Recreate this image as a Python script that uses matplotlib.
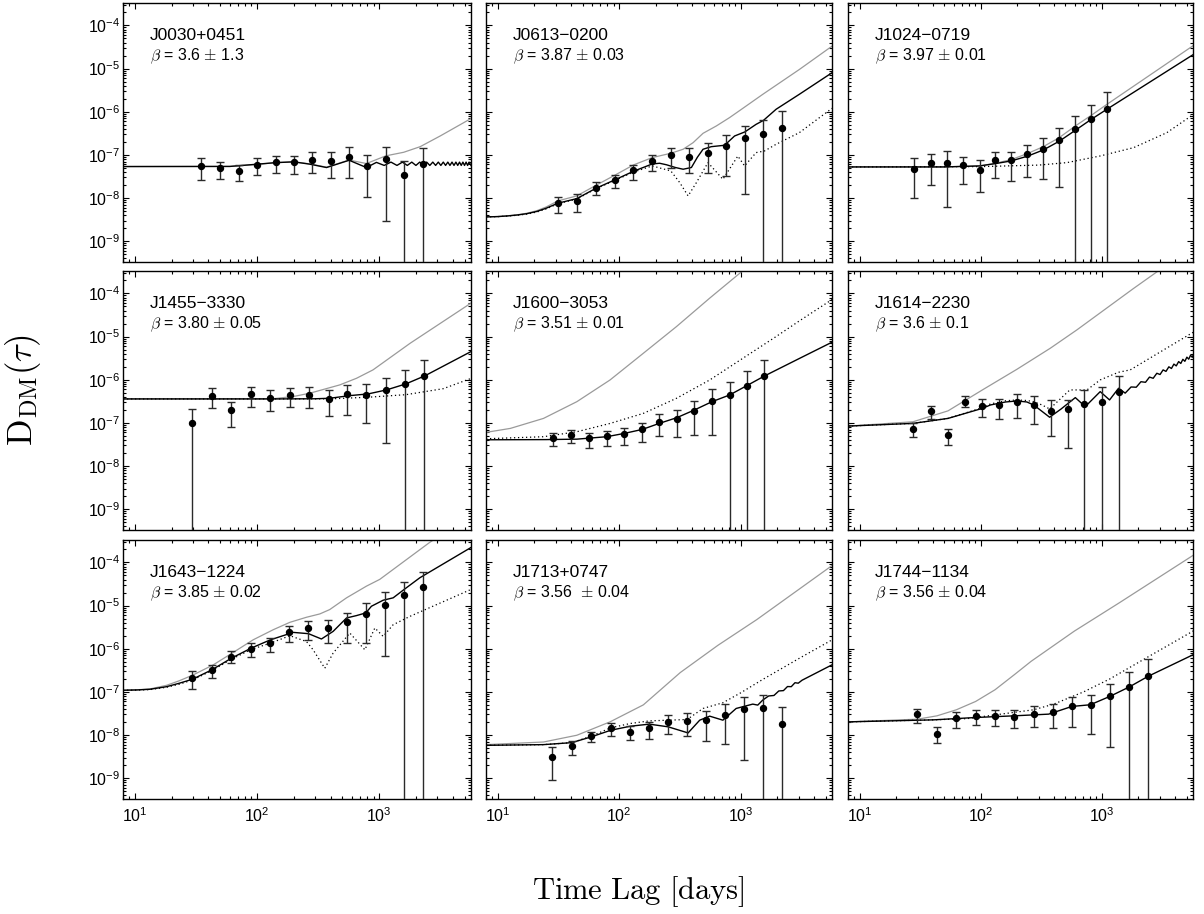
import matplotlib
matplotlib.use("Agg")
import matplotlib.pyplot as plt
from matplotlib.ticker import FixedLocator, NullFormatter, LogFormatterSciNotation
import numpy as np

plt.rcParams['font.family'] = ['Liberation Sans', 'DejaVu Sans']
plt.rcParams['mathtext.fontset'] = 'cm'

# ---------------- data ----------------
names = ["J0030+0451", "J0613\u22120200", "J1024\u22120719",
         "J1455\u22123330", "J1600\u22123053", "J1614\u22122230",
         "J1643\u22121224", "J1713+0747", "J1744\u22121134"]
betas = [r"$\beta$ = 3.6 $\pm$ 1.3", r"$\beta$ = 3.87 $\pm$ 0.03", r"$\beta$ = 3.97 $\pm$ 0.01",
         r"$\beta$ = 3.80 $\pm$ 0.05", r"$\beta$ = 3.51 $\pm$ 0.01", r"$\beta$ = 3.6 $\pm$ 0.1",
         r"$\beta$ = 3.85 $\pm$ 0.02", r"$\beta$ = 3.56  $\pm$ 0.04", r"$\beta$ = 3.56 $\pm$ 0.04"]

x_major_ticks = [10, 100, 1000]
y_major_ticks = [1e-9, 1e-8, 1e-7, 1e-6, 1e-5, 1e-4]

FLOOR = 1e-12  # error bar extends below the axis

# J0030+0451
p1_x = [34.9, 49.6, 70.6, 100, 142, 200, 283, 400, 568, 797, 1135, 1592, 2265]
p1_y = [5.56e-8, 4.9e-8, 4.26e-8, 5.87e-8, 6.77e-8, 6.77e-8, 7.8e-8, 7.26e-8, 9.15e-8, 5.66e-8, 7.94e-8, 3.44e-8, 6.05e-8]
p1_hi = [8.4e-8, 7.0e-8, 5.97e-8, 8.4e-8, 9.66e-8, 9.66e-8, 1.19e-7, 1.17e-7, 1.56e-7, 1.0e-7, 1.56e-7, 7.13e-8, 1.47e-7]
p1_lo = [2.64e-8, 2.73e-8, 2.45e-8, 3.44e-8, 3.83e-8, 3.63e-8, 3.83e-8, 2.94e-8, 2.94e-8, 1.07e-8, 2.92e-9, FLOOR, FLOOR]
p1_bx = [8, 60, 100, 141, 200, 270, 371, 568, 787, 950, 1100, 1250, 1400, 1550, 1700, 1850, 2000, 2150, 2300,
         2450, 2600, 2750, 2900, 3050, 3200, 3350, 3500, 3650, 3800, 3950, 4100, 4250, 4400, 4550, 4700,
         4850, 5000, 5150, 5300, 5450, 5650]
p1_by = [5.37e-8, 5.4e-8, 6.08e-8, 6.6e-8, 6.9e-8, 6.1e-8, 5.09e-8, 7.5e-8, 5.09e-8, 6.7e-8, 5.7e-8, 6.8e-8,
         5.7e-8, 6.8e-8, 5.7e-8, 6.8e-8, 5.7e-8, 6.8e-8, 5.7e-8, 6.8e-8, 5.7e-8, 6.8e-8, 5.7e-8, 6.8e-8,
         5.7e-8, 6.8e-8, 5.7e-8, 6.8e-8, 5.7e-8, 6.8e-8, 5.7e-8, 6.8e-8, 5.7e-8, 6.8e-8, 5.7e-8, 6.8e-8,
         5.7e-8, 6.8e-8, 5.7e-8, 6.8e-8, 5.7e-8]
p1_gx = [8, 60, 100, 141, 200, 270, 371, 568, 787, 1135, 1590, 2168, 3160, 5675]
p1_gy = [5.37e-8, 5.4e-8, 6.0e-8, 6.6e-8, 6.9e-8, 6.2e-8, 5.2e-8, 7.6e-8, 6.3e-8, 9.5e-8, 1.15e-7, 1.55e-7, 2.74e-7, 7.0e-7]
p1_dx = []
p1_dy = []

# J0613-0200
p2_x = [31.3, 44.7, 64.5, 91.8, 131, 187, 266, 378, 538, 761, 1082, 1541, 2191]
p2_y = [7.85e-9, 8.59e-9, 1.75e-8, 2.63e-8, 4.48e-8, 7.24e-8, 9.8e-8, 9.12e-8, 1.13e-7, 1.61e-7, 2.51e-7, 3.05e-7, 4.2e-7]
p2_hi = [1.08e-8, 1.22e-8, 2.36e-8, 3.49e-8, 5.95e-8, 1.01e-7, 1.47e-7, 1.42e-7, 1.92e-7, 2.84e-7, 4.75e-7, 6.55e-7, 1.02e-6]
p2_lo = [4.53e-9, 4.86e-9, 1.16e-8, 1.72e-8, 2.63e-8, 4.25e-8, 5.07e-8, 3.89e-8, 3.75e-8, 3.25e-8, 1.27e-8, FLOOR, FLOOR]
p2_bx = [8, 10, 12, 14.5, 17.4, 21, 25, 31.3, 44.7, 64.5, 91.8, 131, 187, 215, 245, 290, 336, 393, 440, 490,
         573, 737, 891, 1082, 1340, 1541, 1958, 3040, 5650]
p2_by = [3.66e-9, 3.72e-9, 3.85e-9, 4.05e-9, 4.35e-9, 4.9e-9, 5.8e-9, 7.6e-9, 9.7e-9, 1.69e-8, 2.63e-8, 4.17e-8,
         6.16e-8, 6.4e-8, 5.9e-8, 5.1e-8, 4.65e-8, 5.1e-8, 8.8e-8, 1.35e-7, 1.55e-7, 1.67e-7, 2.74e-7, 3.4e-7,
         5.1e-7, 6.3e-7, 1.14e-6, 2.53e-6, 8.0e-6]
p2_gx = [8, 10, 12, 14.5, 17.4, 21, 25, 31.3, 44.7, 64.5, 91.8, 131, 187, 266, 336, 406, 490, 630, 810, 1043,
         1521, 3040, 5650]
p2_gy = [3.66e-9, 3.73e-9, 3.88e-9, 4.1e-9, 4.45e-9, 5.1e-9, 6.2e-9, 8.6e-9, 1.12e-8, 1.98e-8, 3.37e-8,
         5.85e-8, 8.65e-8, 1.09e-7, 1.35e-7, 1.92e-7, 3.16e-7, 4.67e-7, 7.3e-7, 1.2e-6, 2.53e-6, 9.5e-6, 3.3e-5]
p2_dx = [8, 10, 12, 14.5, 17.4, 21, 25, 31.3, 44.7, 64.5, 91.8, 131, 187, 266, 315, 369, 432, 538, 714, 948,
         1077, 1340, 1570, 1958, 3040, 5650]
p2_dy = [3.66e-9, 3.71e-9, 3.82e-9, 4.0e-9, 4.25e-9, 4.75e-9, 5.6e-9, 7.4e-9, 9.5e-9, 1.65e-8, 2.55e-8, 4.0e-8,
         5.55e-8, 4.25e-8, 2.28e-8, 1.12e-8, 2.28e-8, 6.62e-8, 2.72e-8, 9.4e-8, 5.55e-8, 1.13e-7, 1.23e-7,
         1.76e-7, 3.27e-7, 1.2e-6]

# J1024-0719
p3_x = [28.2, 38.5, 52.6, 71.8, 97.8, 132, 178, 242, 328, 444, 603, 817, 1099]
p3_y = [4.81e-8, 6.5e-8, 6.5e-8, 5.85e-8, 4.56e-8, 7.64e-8, 7.5e-8, 1.03e-7, 1.40e-7, 2.18e-7, 3.92e-7, 6.67e-7, 1.14e-6]
p3_hi = [8.65e-8, 1.07e-7, 1.23e-7, 9.12e-8, 7.5e-8, 1.17e-7, 1.19e-7, 1.73e-7, 2.42e-7, 4.13e-7, 7.96e-7, 1.46e-6, 2.92e-6]
p3_lo = [9.9e-9, 2.05e-8, 6.1e-9, 2.16e-8, 1.36e-8, 2.87e-8, 2.49e-8, 3.08e-8, 2.82e-8, 1.84e-8, FLOOR, FLOOR, FLOOR]
p3_bx = [8, 50, 97.8, 132, 178, 242, 328, 444, 603, 817, 1099, 5710]
p3_by = [5.26e-8, 5.26e-8, 5.55e-8, 6.28e-8, 7.24e-8, 9.3e-8, 1.3e-7, 2.07e-7, 3.71e-7, 6.67e-7, 1.14e-6, 2.13e-5]
p3_gx = [8, 50, 97.8, 132, 178, 242, 328, 444, 603, 817, 1099, 5710]
p3_gy = [5.26e-8, 5.26e-8, 5.55e-8, 6.4e-8, 7.76e-8, 1.07e-7, 1.55e-7, 2.51e-7, 4.68e-7, 8.26e-7, 1.48e-6, 3.44e-5]
p3_dx = [8, 99, 300, 514, 968, 1824, 3435, 5710]
p3_dy = [5.26e-8, 5.35e-8, 5.8e-8, 6.62e-8, 9.44e-8, 1.47e-7, 3.27e-7, 8.7e-7]

# J1455-3330
p4_x = [29.6, 42.6, 61.8, 89.5, 129, 186, 267, 385, 550, 787, 1135, 1622, 2322]
p4_y = [9.9e-8, 4.28e-7, 1.95e-7, 4.67e-7, 3.71e-7, 4.51e-7, 4.51e-7, 3.64e-7, 4.59e-7, 4.51e-7, 5.68e-7, 8.11e-7, 1.22e-6]
p4_hi = [2.06e-7, 6.55e-7, 3.1e-7, 6.9e-7, 5.68e-7, 6.55e-7, 6.9e-7, 5.68e-7, 7.69e-7, 8.11e-7, 1.08e-6, 1.71e-6, 2.92e-6]
p4_lo = [FLOOR, 2.25e-7, 7.87e-8, 2.37e-7, 1.91e-7, 2.33e-7, 2.17e-7, 1.42e-7, 1.49e-7, 9.73e-8, 3.4e-8, FLOOR, FLOOR]
p4_bx = [8, 150, 300, 394, 575, 813, 1148, 1656, 2367, 5650]
p4_by = [3.59e-7, 3.59e-7, 3.62e-7, 3.72e-7, 4.28e-7, 4.69e-7, 5.8e-7, 8.0e-7, 1.23e-6, 4.49e-6]
p4_gx = [8, 135, 200, 270, 476, 653, 891, 1795, 5650]
p4_gy = [3.59e-7, 3.62e-7, 4.1e-7, 4.86e-7, 7.58e-7, 1.08e-6, 1.69e-6, 7.0e-6, 5.96e-5]
p4_dx = [8, 394, 813, 1656, 3350, 5650]
p4_dy = [3.59e-7, 3.6e-7, 3.93e-7, 4.5e-7, 6.2e-7, 1.07e-6]

# J1600-3053
p5_x = [28.4, 40.0, 56.1, 78.8, 110, 155, 213, 298, 416, 581, 811, 1125, 1570]
p5_y = [4.44e-8, 5.22e-8, 4.37e-8, 4.94e-8, 5.5e-8, 7.06e-8, 1.06e-7, 1.23e-7, 1.88e-7, 3.21e-7, 4.43e-7, 7.3e-7, 1.22e-6]
p5_hi = [5.91e-8, 6.94e-8, 5.91e-8, 6.57e-8, 7.72e-8, 1.01e-7, 1.63e-7, 1.99e-7, 3.16e-7, 6.0e-7, 9.03e-7, 1.57e-6, 2.92e-6]
p5_lo = [2.9e-8, 3.4e-8, 2.61e-8, 2.9e-8, 3.11e-8, 3.66e-8, 4.94e-8, 4.6e-8, 5.22e-8, 5.13e-8, FLOOR, FLOOR, FLOOR]
p5_bx = [8, 25, 44.8, 78.8, 110, 155, 213, 298, 416, 581, 811, 1125, 1570, 3040, 5650]
p5_by = [4.06e-8, 4.1e-8, 4.2e-8, 4.78e-8, 5.7e-8, 7.06e-8, 9.7e-8, 1.32e-7, 1.99e-7, 3.1e-7, 4.43e-7, 7.3e-7,
         1.22e-6, 3.1e-6, 7.4e-6]
p5_gx = [8, 12.7, 23.8, 44.8, 84, 158, 296, 556, 1035, 2000]
p5_gy = [6.03e-8, 7.45e-8, 1.27e-7, 3.1e-7, 9.86e-7, 4.1e-6, 1.7e-5, 7.76e-5, 3.3e-4, 1.5e-3]
p5_dx = [8, 23.8, 44.8, 84, 158, 296, 556, 1043, 1958, 3040, 5650]
p5_dy = [4.29e-8, 4.78e-8, 6.24e-8, 9.7e-8, 1.66e-7, 3.71e-7, 9.86e-7, 3.14e-6, 1.0e-5, 2.3e-5, 7.2e-5]

# J1614-2230
p6_x = [27.5, 38.5, 53.6, 74.0, 103, 142, 198, 273, 377, 521, 715, 993, 1374]
p6_y = [7.06e-8, 1.88e-7, 5.13e-8, 3.05e-7, 2.42e-7, 2.55e-7, 3.1e-7, 2.64e-7, 1.91e-7, 2.09e-7, 2.74e-7, 3.05e-7, 5.1e-7]
p6_hi = [9.73e-8, 2.46e-7, 7.06e-8, 4.2e-7, 3.51e-7, 3.64e-7, 4.67e-7, 4.2e-7, 3.32e-7, 3.39e-7, 5.68e-7, 6.67e-7, 1.24e-6]
p6_lo = [4.6e-8, 1.2e-7, 3.05e-8, 2.29e-7, 1.36e-7, 1.2e-7, 1.32e-7, 9.23e-8, 4.94e-8, 2.61e-8, FLOOR, FLOOR, FLOOR]
p6_bx = [8, 27.5, 53.6, 103, 120, 160, 199, 240, 273, 320, 370, 460, 603, 728, 968, 1156, 1372, 1556, 1740,
         1920, 2100, 2290, 2470, 2650, 2840, 3020, 3200, 3380, 3570, 3750, 3930, 4110, 4300, 4480, 4660, 4840,
         5030, 5210, 5390, 5570, 5750]
p6_by = [8.43e-8, 9.73e-8, 1.27e-7, 2.17e-7, 2.6e-7, 3.05e-7, 3.22e-7, 3.05e-7, 2.6e-7, 1.85e-7, 1.35e-7,
         2.1e-7, 3.85e-7, 2.38e-7, 5.3e-7, 3.4e-7, 6.34e-7, 4.89e-7, 6.79e-7, 6.7e-7, 8.99e-7, 8.71e-7,
         1.15e-6, 1.08e-6, 1.41e-6, 1.32e-6, 1.69e-6, 1.56e-6, 1.99e-6, 1.82e-6, 2.3e-6, 2.09e-6, 2.63e-6,
         2.38e-6, 2.97e-6, 2.67e-6, 3.33e-6, 2.99e-6, 3.69e-6, 3.3e-6, 4.06e-6]
p6_gx = [8, 27.5, 53.6, 103, 199, 375, 622, 1824, 3000]
p6_gy = [8.43e-8, 1.06e-7, 1.9e-7, 5.8e-7, 1.75e-6, 5.37e-6, 1.43e-5, 1.3e-4, 3.5e-4]
p6_dx = [8, 27.5, 53.6, 103, 120, 160, 199, 240, 273, 320, 370, 543, 752, 968, 1372, 1714, 5650]
p6_dy = [8.43e-8, 9.73e-8, 1.27e-7, 2.25e-7, 2.75e-7, 3.25e-7, 3.4e-7, 3.3e-7, 3.1e-7, 2.6e-7, 2.1e-7,
         5.8e-7, 5.8e-7, 9.9e-7, 1.49e-6, 1.69e-6, 1.25e-5]

# J1643-1224
p7_x = [29.6, 42.6, 61.8, 89.5, 129, 183, 264, 378, 541, 778, 1112, 1602, 2265]
p7_y = [2.07e-7, 3.29e-7, 6.6e-7, 9.95e-7, 1.35e-6, 2.39e-6, 3.02e-6, 2.96e-6, 4.09e-6, 6.4e-6, 1.05e-5, 1.71e-5, 2.62e-5]
p7_hi = [3.0e-7, 4.3e-7, 8.63e-7, 1.35e-6, 1.77e-6, 3.42e-6, 4.4e-6, 4.64e-6, 6.75e-6, 1.13e-5, 2.05e-5, 3.56e-5, 5.87e-5]
p7_lo = [1.17e-7, 2.07e-7, 4.62e-7, 6.6e-7, 8.34e-7, 1.4e-6, 1.56e-6, 1.33e-6, 1.35e-6, 1.35e-6, 6.73e-7, FLOOR, FLOOR]
p7_bx = [8, 10.5, 13.3, 18.2, 23, 29.6, 42.6, 61.8, 89.5, 129, 198, 264, 337, 420, 541, 652, 778, 865, 1079,
         1303, 1602, 2153, 5675]
p7_by = [1.09e-7, 1.11e-7, 1.15e-7, 1.32e-7, 1.58e-7, 1.96e-7, 3.23e-7, 6.04e-7, 1.03e-6, 1.61e-6, 2.39e-6,
         2.23e-6, 1.68e-6, 2.52e-6, 5.16e-6, 5.85e-6, 6.75e-6, 9.64e-6, 1.33e-5, 1.51e-5, 2.36e-5, 4.4e-5, 2.23e-4]
p7_gx = [8, 10.5, 13.3, 18.2, 23, 30, 43.8, 63.8, 93.1, 136, 186, 254, 327, 394, 541, 788, 1012, 2600, 5650]
p7_gy = [1.09e-7, 1.12e-7, 1.17e-7, 1.42e-7, 1.8e-7, 2.47e-7, 4.22e-7, 8.18e-7, 1.61e-6, 2.76e-6, 4.09e-6,
         5.35e-6, 6.4e-6, 8.07e-6, 1.51e-5, 2.82e-5, 4.04e-5, 2.92e-4, 1.2e-3]
p7_dx = [8, 10.5, 13.3, 18.2, 23, 29.6, 42.6, 61.8, 89.5, 129, 186, 254, 288, 359, 420, 575, 764, 922, 1079,
         1303, 1795, 5650]
p7_dy = [1.09e-7, 1.1e-7, 1.13e-7, 1.28e-7, 1.5e-7, 1.88e-7, 3.1e-7, 5.7e-7, 9.6e-7, 1.35e-6, 2.0e-6, 1.47e-6,
         9.44e-7, 3.53e-7, 7.9e-7, 2.31e-6, 9.44e-7, 3.02e-6, 1.93e-6, 3.6e-6, 5.65e-6, 2.36e-5]

# J1713+0747
p8_x = [27.9, 40.7, 58.7, 85.1, 123, 177, 253, 362, 521, 746, 1069, 1541, 2204]
p8_y = [3.1e-9, 5.48e-9, 9.37e-9, 1.42e-8, 1.18e-8, 1.47e-8, 1.99e-8, 2.13e-8, 2.21e-8, 2.84e-8, 4.06e-8, 4.13e-8, 1.82e-8]
p8_hi = [5.3e-9, 7.3e-9, 1.18e-8, 1.92e-8, 1.6e-8, 2.02e-8, 2.89e-8, 3.28e-8, 3.65e-8, 5.21e-8, 7.73e-8, 8.61e-8, 4.36e-8]
p8_lo = [9.3e-10, 3.51e-9, 6.8e-9, 9.37e-9, 7.57e-9, 8.28e-9, 1.03e-8, 9.37e-9, 7.43e-9, 6.33e-9, 2.59e-9, FLOOR, FLOOR]
p8_bx = [8, 23.8, 40.7, 58.7, 85.1, 123, 177, 253, 369, 460, 556, 714, 918, 1258, 1383, 1521, 1700, 1880,
         2060, 2250, 2430, 2610, 2800, 2980, 3200, 5650]
p8_by = [5.78e-9, 6.0e-9, 6.67e-9, 9.06e-9, 1.29e-8, 1.6e-8, 1.79e-8, 1.55e-8, 1.12e-8, 2.21e-8, 2.74e-8,
         2.21e-8, 4.13e-8, 5.21e-8, 4.94e-8, 6.47e-8, 8.04e-8, 8.26e-8, 1.05e-7, 1.07e-7, 1.33e-7, 1.32e-7,
         1.63e-7, 1.59e-7, 1.86e-7, 4.23e-7]
p8_gx = [8, 23.8, 44.8, 84, 158, 318, 650, 1361, 5330, 5650]
p8_gy = [6.0e-9, 6.9e-9, 9.9e-9, 2.02e-8, 5.0e-8, 2.8e-7, 1.2e-6, 4.75e-6, 7.5e-5, 8.5e-5]
p8_dx = [8, 23.8, 40.7, 58.7, 85.1, 123, 177, 253, 362, 490, 714, 1000, 1500, 3040, 5650]
p8_dy = [5.78e-9, 6.0e-9, 6.67e-9, 9.4e-9, 1.47e-8, 1.85e-8, 2.13e-8, 2.21e-8, 2.29e-8, 4.13e-8, 5.6e-8,
         9.5e-8, 1.9e-7, 6.0e-7, 1.6e-6]

# J1744-1134
p9_x = [29.9, 43.5, 62.8, 90.6, 131, 189, 273, 394, 565, 811, 1164, 1681, 2411]
p9_y = [3.0e-8, 1.06e-8, 2.42e-8, 2.74e-8, 2.74e-8, 2.64e-8, 3.1e-8, 3.4e-8, 4.6e-8, 4.94e-8, 7.87e-8, 1.32e-7, 2.34e-7]
p9_hi = [3.99e-8, 1.52e-8, 3.33e-8, 3.78e-8, 3.78e-8, 3.78e-8, 4.6e-8, 5.31e-8, 7.59e-8, 8.61e-8, 1.5e-7, 2.85e-7, 5.83e-7]
p9_lo = [1.95e-8, 6.44e-9, 1.49e-8, 1.72e-8, 1.66e-8, 1.49e-8, 1.57e-8, 1.49e-8, 1.57e-8, 1.06e-8, 5.2e-9, FLOOR, FLOOR]
p9_bx = [8, 40.8, 90.6, 189, 363, 565, 801, 1164, 1681, 2411, 5710]
p9_by = [2.02e-8, 2.25e-8, 2.55e-8, 2.79e-8, 3.05e-8, 4.6e-8, 5.03e-8, 7.87e-8, 1.3e-7, 2.3e-7, 7.34e-7]
p9_gx = [8, 30, 43.5, 62.8, 90.6, 131, 189, 260, 591, 1393, 5650]
p9_gy = [2.02e-8, 2.33e-8, 2.79e-8, 3.85e-8, 6.0e-8, 1.12e-7, 2.5e-7, 5.1e-7, 2.55e-6, 1.16e-5, 1.45e-4]
p9_dx = [8, 40.8, 76.9, 273, 399, 706, 1164, 2411, 5710]
p9_dy = [2.02e-8, 2.25e-8, 2.4e-8, 3.85e-8, 5.2e-8, 1.0e-7, 2.0e-7, 6.5e-7, 2.6e-6]

panels = [
    (p1_x, p1_y, p1_lo, p1_hi, p1_bx, p1_by, p1_gx, p1_gy, p1_dx, p1_dy),
    (p2_x, p2_y, p2_lo, p2_hi, p2_bx, p2_by, p2_gx, p2_gy, p2_dx, p2_dy),
    (p3_x, p3_y, p3_lo, p3_hi, p3_bx, p3_by, p3_gx, p3_gy, p3_dx, p3_dy),
    (p4_x, p4_y, p4_lo, p4_hi, p4_bx, p4_by, p4_gx, p4_gy, p4_dx, p4_dy),
    (p5_x, p5_y, p5_lo, p5_hi, p5_bx, p5_by, p5_gx, p5_gy, p5_dx, p5_dy),
    (p6_x, p6_y, p6_lo, p6_hi, p6_bx, p6_by, p6_gx, p6_gy, p6_dx, p6_dy),
    (p7_x, p7_y, p7_lo, p7_hi, p7_bx, p7_by, p7_gx, p7_gy, p7_dx, p7_dy),
    (p8_x, p8_y, p8_lo, p8_hi, p8_bx, p8_by, p8_gx, p8_gy, p8_dx, p8_dy),
    (p9_x, p9_y, p9_lo, p9_hi, p9_bx, p9_by, p9_gx, p9_gy, p9_dx, p9_dy),
]

XLIM = (8.0, 5650)
YLIM = (3.3e-10, 3.3e-4)

# minor tick positions restricted to the visible range (2..9 x each decade)
x_minor_ticks = [m * 10.0 ** e for e in range(0, 4) for m in range(2, 10)
                 if XLIM[0] <= m * 10.0 ** e <= XLIM[1]]
y_minor_ticks = [m * 10.0 ** e for e in range(-10, -3) for m in range(2, 10)
                 if YLIM[0] <= m * 10.0 ** e <= YLIM[1]]

# ---------------- layout ----------------
W, H = 1204, 914
fig = plt.figure(figsize=(W / 100, H / 100), dpi=100)
col_left = [123, 486, 848]
col_w = [348, 346, 345]
row_top = [3, 271, 540]
row_h = 259

for i, (px, py, plo, phi, bx, by, gx, gy, dx, dy) in enumerate(panels):
    r, c = divmod(i, 3)
    ax = fig.add_axes([col_left[c] / W, 1 - (row_top[r] + row_h) / H, col_w[c] / W, row_h / H])
    ax.set_xscale('log')
    ax.set_yscale('log')
    ax.set_xlim(*XLIM)
    ax.set_ylim(*YLIM)

    ax.plot(gx, gy, color='#9a9a9a', lw=0.9, zorder=2)
    if len(dx):
        ax.plot(dx, dy, color='k', lw=0.9, ls=(0, (1, 2.2)), zorder=3)
    ax.plot(bx, by, color='k', lw=1.0, zorder=4)

    py_a = np.array(py)
    yerr = [py_a - np.array(plo), np.array(phi) - py_a]
    ax.errorbar(px, py, yerr=yerr, fmt='o', color='k', ms=4.3, ecolor='#2a2a2a',
                elinewidth=1.0, capsize=2.7, capthick=1.0, zorder=5)

    ax.text(0.078, 0.876, names[i], transform=ax.transAxes, fontsize=12.5, va='center', ha='left')
    ax.text(0.078, 0.795, betas[i], transform=ax.transAxes, fontsize=11.5, va='center', ha='left')

    ax.xaxis.set_major_locator(FixedLocator(x_major_ticks))
    ax.xaxis.set_minor_locator(FixedLocator(x_minor_ticks))
    ax.yaxis.set_major_locator(FixedLocator(y_major_ticks))
    ax.yaxis.set_minor_locator(FixedLocator(y_minor_ticks))
    ax.xaxis.set_major_formatter(LogFormatterSciNotation())
    ax.yaxis.set_major_formatter(LogFormatterSciNotation())
    ax.xaxis.set_minor_formatter(NullFormatter())
    ax.yaxis.set_minor_formatter(NullFormatter())
    ax.tick_params(which='both', direction='in', top=True, right=True, width=0.8)
    ax.tick_params(which='major', length=4.5, labelsize=11.5)
    ax.tick_params(which='minor', length=2.3)
    ax.tick_params(axis='y', pad=2)
    ax.tick_params(axis='x', pad=5)
    if c != 0:
        ax.tick_params(labelleft=False)
    if r != 2:
        ax.tick_params(labelbottom=False)
    for s in ax.spines.values():
        s.set_linewidth(1.0)

fig.text(23 / W, 1 - 390 / H, r'$\mathrm{D}_{\mathrm{DM}}(\tau)$', rotation=90,
         fontsize=25, ha='center', va='center')
fig.text(638 / W, 1 - 892 / H, r'$\mathrm{Time\ Lag\ [days]}$', fontsize=22,
         ha='center', va='center')

fig.savefig('out.png', dpi=100)
